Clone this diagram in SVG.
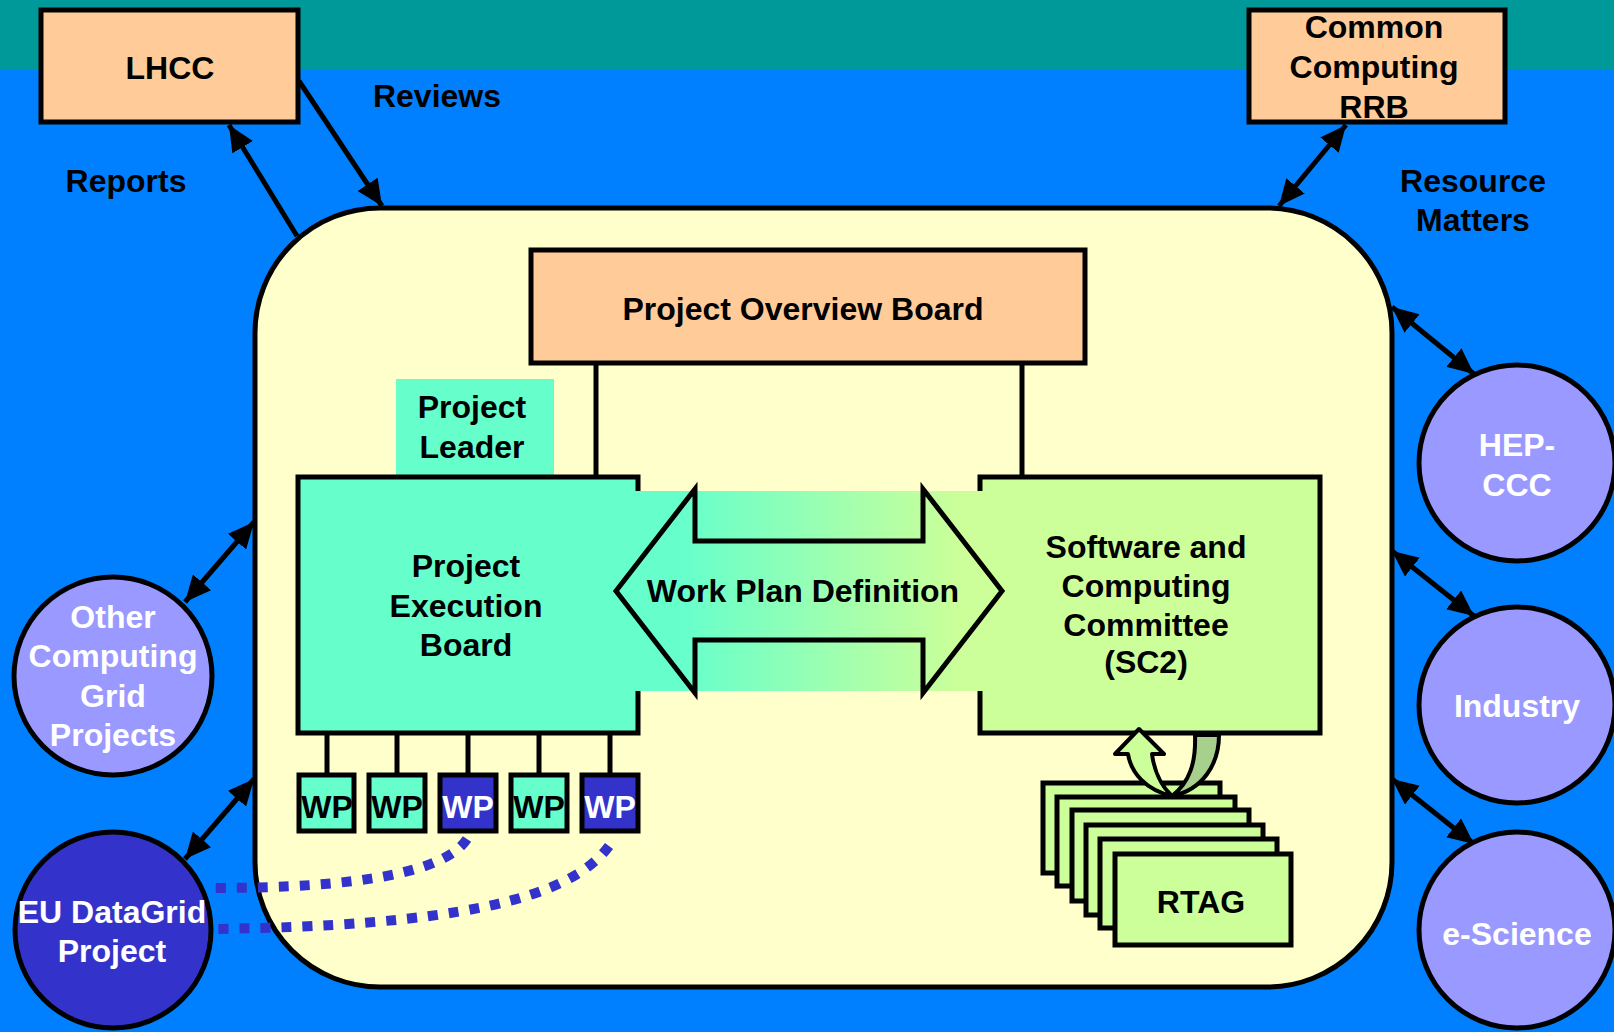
<svg xmlns="http://www.w3.org/2000/svg" width="1614" height="1032" viewBox="0 0 1614 1032">
<defs>
<style>
text{font-family:"Liberation Sans",Arial,sans-serif;font-weight:bold;font-size:32px;text-anchor:middle;fill:#000}
.w{fill:#fff}
.box{stroke:#000;stroke-width:5}
.peach{fill:#FFCC99}
.cyan{fill:#66FFCC}
.lime{fill:#CCFF99}
.navy{fill:#3333CC}
.circ{fill:#9999FF;stroke:#000;stroke-width:5}
.con{stroke:#000;stroke-width:5;fill:none}
.dot{stroke:#3333CC;stroke-width:10;fill:none;stroke-dasharray:10 11}
</style>
<marker id="ah" viewBox="0 0 26 24" refX="26" refY="12" markerWidth="26" markerHeight="24" markerUnits="userSpaceOnUse" orient="auto-start-reverse">
<path d="M0,0 L26,12 L0,24 Z" fill="#000"/>
</marker>
<linearGradient id="grad" gradientUnits="userSpaceOnUse" x1="680" y1="0" x2="960" y2="0">
<stop offset="0" stop-color="#66FFCC"/>
<stop offset="1" stop-color="#CCFF99"/>
</linearGradient>
</defs>

<rect x="0" y="0" width="1614" height="1032" fill="#0080FF"/>
<rect x="0" y="0" width="1614" height="70" fill="#009999"/>

<g id="main-box">
<rect x="255" y="208" width="1137" height="779" rx="125" ry="125" fill="#FFFFCC" stroke="#000" stroke-width="5"/>
</g>

<g id="connectors">
<line class="con" x1="596" y1="363" x2="596" y2="477"/>
<line class="con" x1="1022" y1="363" x2="1022" y2="477"/>
<line class="con" x1="327" y1="733" x2="327" y2="774"/>
<line class="con" x1="397" y1="733" x2="397" y2="774"/>
<line class="con" x1="468" y1="733" x2="468" y2="774"/>
<line class="con" x1="539" y1="733" x2="539" y2="774"/>
<line class="con" x1="610" y1="733" x2="610" y2="774"/>
<line class="con" x1="299" y1="81" x2="382" y2="206" marker-end="url(#ah)"/>
<line class="con" x1="297" y1="236" x2="229" y2="125" marker-end="url(#ah)"/>
<line class="con" x1="1346" y1="125" x2="1279" y2="206" marker-start="url(#ah)" marker-end="url(#ah)"/>
<line class="con" x1="1392" y1="307" x2="1474" y2="374" marker-start="url(#ah)" marker-end="url(#ah)"/>
<line class="con" x1="1392" y1="551" x2="1474" y2="616" marker-start="url(#ah)" marker-end="url(#ah)"/>
<line class="con" x1="1392" y1="779" x2="1474" y2="844" marker-start="url(#ah)" marker-end="url(#ah)"/>
<line class="con" x1="254" y1="522" x2="185" y2="602" marker-start="url(#ah)" marker-end="url(#ah)"/>
<line class="con" x1="254" y1="779" x2="185" y2="859" marker-start="url(#ah)" marker-end="url(#ah)"/>
</g>

<g id="lhcc">
<rect class="box peach" x="41" y="10" width="257" height="112"/>
<text x="170" y="79">LHCC</text>
</g>

<g id="rrb">
<rect class="box peach" x="1249" y="10" width="256" height="112"/>
<text x="1374" y="38">Common</text>
<text x="1374" y="78">Computing</text>
<text x="1374" y="118">RRB</text>
</g>

<g id="labels">
<text x="437" y="107">Reviews</text>
<text x="126" y="192">Reports</text>
<text x="1473" y="192">Resource</text>
<text x="1473" y="231">Matters</text>
</g>

<g id="pob">
<rect class="box peach" x="531" y="250" width="554" height="113"/>
<text x="803" y="320">Project Overview Board</text>
</g>

<g id="project-leader">
<rect class="cyan" x="396" y="379" width="158" height="98"/>
<text x="472" y="418">Project</text>
<text x="472" y="458">Leader</text>
</g>

<g id="peb">
<rect class="box cyan" x="298" y="477" width="340" height="256"/>
</g>

<g id="sc2">
<rect class="box lime" x="980" y="477" width="340" height="256"/>
</g>

<g id="work-plan">
<rect x="634" y="491" width="350" height="200" fill="url(#grad)"/>
<polygon points="616,591 695,489 695,541 923,541 923,489 1002,591 923,693 923,640 695,640 695,693" fill="url(#grad)" stroke="#000" stroke-width="5" stroke-linejoin="miter"/>
<text x="803" y="602">Work Plan Definition</text>
</g>

<g id="peb-text">
<text x="466" y="577">Project</text>
<text x="466" y="617">Execution</text>
<text x="466" y="656">Board</text>
</g>

<g id="sc2-text">
<text x="1146" y="558">Software and</text>
<text x="1146" y="597">Computing</text>
<text x="1146" y="636">Committee</text>
<text x="1146" y="673">(SC2)</text>
</g>

<g id="wp1"><rect class="box cyan" x="299" y="775" width="55" height="56"/><text x="327" y="818">WP</text></g>
<g id="wp2"><rect class="box cyan" x="369" y="775" width="56" height="56"/><text x="397" y="818">WP</text></g>
<g id="wp3"><rect class="box navy" x="440" y="775" width="56" height="56"/><text class="w" x="468" y="818">WP</text></g>
<g id="wp4"><rect class="box cyan" x="511" y="775" width="56" height="56"/><text x="539" y="818">WP</text></g>
<g id="wp5"><rect class="box navy" x="582" y="775" width="56" height="56"/><text class="w" x="610" y="818">WP</text></g>

<g id="rtag">
<rect class="box lime" x="1043" y="783" width="177" height="90"/>
<rect class="box lime" x="1057" y="797" width="178" height="89"/>
<rect class="box lime" x="1072" y="810" width="177" height="91"/>
<rect class="box lime" x="1086" y="825" width="177" height="90"/>
<rect class="box lime" x="1100" y="839" width="177" height="89"/>
<rect class="box lime" x="1115" y="854" width="176" height="91"/>
<text x="1201" y="913">RTAG</text>
</g>

<g id="loop-arrow" stroke="#000" stroke-width="4" stroke-linejoin="round">
<path d="M1195,735 L1219,735 C1219,765 1202,790 1172,796 C1190,782 1196,762 1195,735 Z" fill="#A8D08D"/>
<path d="M1172,796 C1146,790 1131,773 1128,754 L1115,754 L1139,729 L1164,754 L1152,754 C1154,770 1161,786 1172,796 Z" fill="#CCFF99"/>
</g>

<g id="hep-ccc"><circle class="circ" cx="1517" cy="463" r="98"/><text class="w" x="1517" y="456">HEP-</text><text class="w" x="1517" y="496">CCC</text></g>
<g id="industry"><circle class="circ" cx="1517" cy="705" r="98"/><text class="w" x="1517" y="717">Industry</text></g>
<g id="e-science"><circle class="circ" cx="1517" cy="930" r="98"/><text class="w" x="1517" y="945">e-Science</text></g>
<g id="other-grid"><circle class="circ" cx="113" cy="676" r="99"/>
<text class="w" x="113" y="628">Other</text><text class="w" x="113" y="667">Computing</text><text class="w" x="113" y="707">Grid</text><text class="w" x="113" y="746">Projects</text></g>
<g id="eu-datagrid"><circle class="box navy" cx="113" cy="930" r="98"/>
<text class="w" x="112" y="923">EU DataGrid</text><text class="w" x="112" y="962">Project</text></g>

<g id="dotted-links">
<path class="dot" d="M467,839 C445,872 360,888 213,888"/>
<path class="dot" d="M609,846 C570,900 450,926 213,929"/>
</g>
</svg>
